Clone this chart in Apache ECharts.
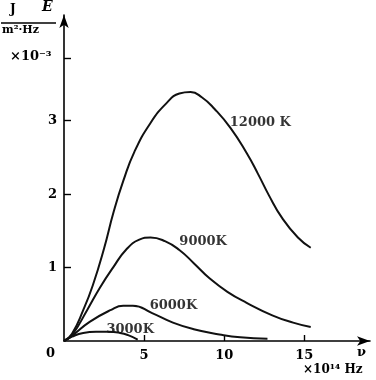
<!DOCTYPE html>
<html>
<head>
<meta charset="utf-8">
<script src="https://cdn.jsdelivr.net/npm/echarts@6/dist/echarts.min.js"></script>
<style>
  html, body { margin: 0; padding: 0; background: #fff; }
  #box { width: 376px; height: 380px; }
</style>
</head>
<body>
<div id="box"></div>
<script>
// frequency in 10^14 Hz, E in 10^-3 J/(m2*Hz)
var curve12000 = [[0,0],[0.5,0.1],[1.2,0.42],[1.8,0.76],[2.5,1.26],[3.1,1.76],[3.7,2.18],[4.4,2.58],[5.4,2.97],[6.4,3.24],[7.2,3.37],[7.9,3.39],[8.6,3.32],[9.4,3.16],[10.4,2.9],[11.4,2.56],[12.1,2.28],[12.8,1.98],[13.6,1.68],[14.6,1.41],[15.4,1.27]];
var curve9000 = [[0,0],[0.5,0.08],[1.44,0.42],[2.25,0.73],[3.06,1.0],[3.9,1.25],[4.7,1.38],[5.4,1.41],[6.3,1.36],[7.2,1.24],[8.1,1.06],[9.1,0.85],[10.2,0.67],[11.4,0.52],[13.0,0.35],[14.3,0.25],[15.4,0.19]];
var curve6000 = [[0,0],[0.5,0.07],[1.6,0.26],[2.9,0.42],[3.7,0.48],[4.3,0.48],[5.5,0.38],[6.8,0.25],[8.1,0.16],[9.7,0.09],[11.0,0.05],[12.7,0.03]];
var curve3000 = [[0,0],[0.5,0.06],[1.2,0.11],[2.0,0.125],[2.8,0.125],[3.5,0.11],[4.0,0.08],[4.6,0.02]];
var curveLabels = [[10.35,2.97,'12000 K'],[7.2,1.36,'9000K'],[5.35,0.48,'6000K'],[2.65,0.15,'3000K']];
var xTicks = [5,10,15];
var yTicks = [1,2,3];
var yTickMarks = [1,2,3,3.85];

var serif = '"DejaVu Serif","Liberation Serif",serif';
var chart = echarts.init(document.getElementById('box'));

function curve(data) {
  return {
    type: 'line',
    data: data,
    smooth: 0.5,
    showSymbol: false,
    silent: true,
    lineStyle: { color: '#111', width: 2 }
  };
}

var option = {
  animation: false,
  grid: { left: 64, right: 6, top: 15, bottom: 39 },
  xAxis: {
    type: 'value',
    min: 0,
    max: 19.1,
    interval: 5,
    axisLine: { symbol: ['none', 'arrow'], symbolSize: [7, 13], lineStyle: { color: '#000', width: 1.6 } },
    axisTick: { inside: true, length: 6, customValues: xTicks, lineStyle: { color: '#000', width: 1.4 } },
    axisLabel: { customValues: xTicks, color: '#000', fontFamily: serif, fontSize: 13, fontWeight: 'bold', margin: 8 },
    splitLine: { show: false }
  },
  yAxis: {
    type: 'value',
    min: 0,
    max: 4.44,
    interval: 1,
    axisLine: { symbol: ['none', 'arrow'], symbolSize: [7, 13], lineStyle: { color: '#000', width: 1.6 } },
    axisTick: { inside: true, length: 7, customValues: yTickMarks, lineStyle: { color: '#000', width: 1.4 } },
    axisLabel: { customValues: yTicks, color: '#000', fontFamily: serif, fontSize: 13, fontWeight: 'bold', margin: 7 },
    splitLine: { show: false }
  },
  series: [
    curve(curve12000),
    curve(curve9000),
    curve(curve6000),
    curve(curve3000),
    {
      type: 'scatter',
      symbolSize: 0,
      silent: true,
      data: curveLabels,
      label: {
        show: true,
        position: 'right',
        distance: 0,
        formatter: function (p) { return p.data[2]; },
        color: '#000',
        fontFamily: serif,
        fontSize: 13,
        fontWeight: 'bold'
      }
    }
  ],
  graphic: [
    { type: 'text', left: 10, top: 4, style: { text: 'J', font: 'bold 12px ' + serif, fill: '#000' } },
    { type: 'text', left: 42, top: 0, style: { text: 'E', font: 'italic bold 14px ' + serif, fill: '#000' } },
    { type: 'line', shape: { x1: 1, y1: 23, x2: 56, y2: 23 }, style: { stroke: '#000', lineWidth: 1.4 } },
    { type: 'text', left: 2, top: 25, style: { text: 'm²·Hz', font: 'bold 11px ' + serif, fill: '#000' } },
    { type: 'text', left: 10, top: 50, style: { text: '×10⁻³', font: 'bold 13px ' + serif, fill: '#000' } },
    { type: 'text', left: 46, top: 347, style: { text: '0', font: 'bold 13px ' + serif, fill: '#000' } },
    { type: 'text', left: 357, top: 346, style: { text: 'ν', font: 'bold 13px ' + serif, fill: '#000' } },
    { type: 'text', left: 303, top: 364, style: { text: '×10¹⁴ Hz', font: 'bold 12px ' + serif, fill: '#000' } }
  ]
};

chart.setOption(option);
</script>
</body>
</html>
